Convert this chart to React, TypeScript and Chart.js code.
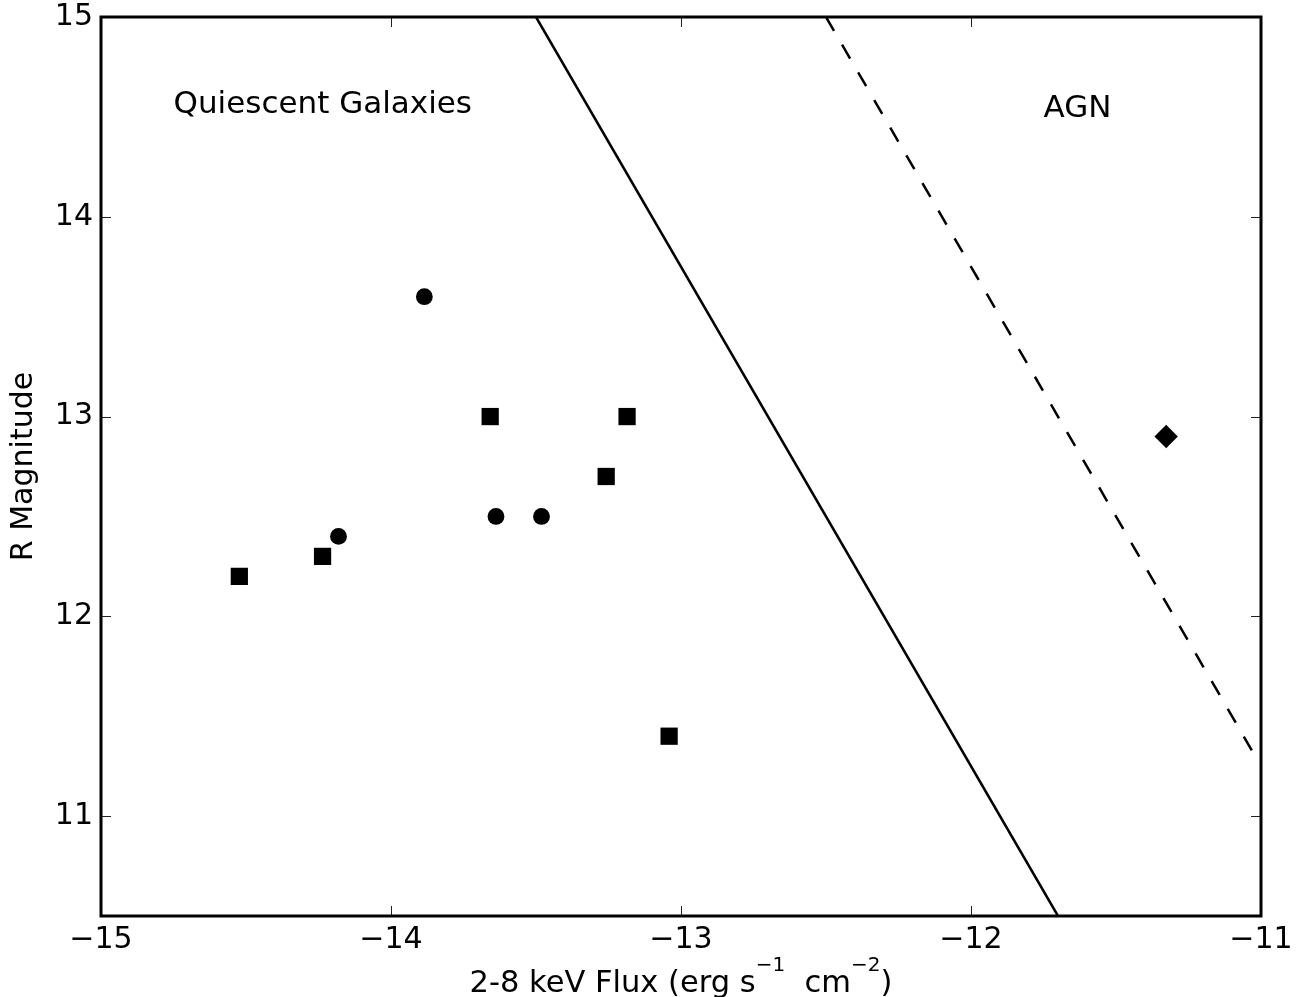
import React, { useEffect, useRef } from "react";
import { Chart, registerables } from "chart.js";

Chart.register(...registerables);

const FONT = '"DejaVu Sans", "Liberation Sans", sans-serif';

// ---- data ----
const squareX = [-14.523, -14.236, -13.658, -13.258, -13.186, -13.041];
const squareY = [12.2, 12.3, 13.0, 12.7, 13.0, 11.4];
const circleX = [-13.885, -14.181, -13.638, -13.481];
const circleY = [13.6, 12.4, 12.5, 12.5];
const diamondX = [-11.327];
const diamondY = [12.9];
const solidLineX = [-13.5, -11.7];
const solidLineY = [15.0, 10.5];
const dashedLineX = [-12.5, -11.02];
const dashedLineY = [15.0, 11.3];

const xTickValues = [-15, -14, -13, -12, -11];
const yTickValues = [11, 12, 13, 14, 15];
const xLimits = [-15, -11];
const yLimits = [10.5, 15];

const annotationText = ["Quiescent Galaxies", "AGN"];
const annotationX = [-14.75, -11.75];
const annotationY = [14.52, 14.5];

const xLabelParts = ["2-8 keV Flux (erg s", "\u22121", "  cm", "\u22122", ")"];
const xLabelSuper = [false, true, false, true, false];
const yLabel = "R Magnitude";

const zip = (xs: number[], ys: number[]) => xs.map((x, i) => ({ x, y: ys[i] }));
const fmt = (v: number) => (v < 0 ? "\u2212" + Math.abs(v) : String(v));

const framePlugin = {
  id: "framePlugin",
  afterDatasetsDraw(chart: any) {
    const { ctx, chartArea: a, scales } = chart;
    ctx.save();
    // inward ticks on all four sides
    ctx.strokeStyle = "#222";
    ctx.lineWidth = 1;
    const L = 10;
    ctx.beginPath();
    for (const v of xTickValues) {
      const px = Math.round(scales.x.getPixelForValue(v)) + 0.5;
      ctx.moveTo(px, a.bottom);
      ctx.lineTo(px, a.bottom - L);
      ctx.moveTo(px, a.top);
      ctx.lineTo(px, a.top + L);
    }
    for (const v of yTickValues) {
      const py = Math.round(scales.y.getPixelForValue(v)) + 0.5;
      ctx.moveTo(a.left, py);
      ctx.lineTo(a.left + L, py);
      ctx.moveTo(a.right, py);
      ctx.lineTo(a.right - L, py);
    }
    ctx.stroke();
    // frame
    ctx.strokeStyle = "#000";
    ctx.lineWidth = 3;
    ctx.strokeRect(a.left, a.top, a.right - a.left, a.bottom - a.top);
    // annotations
    ctx.fillStyle = "#000";
    ctx.font = `31px ${FONT}`;
    ctx.textAlign = "left";
    ctx.textBaseline = "alphabetic";
    annotationText.forEach((t, i) => {
      ctx.fillText(
        t,
        scales.x.getPixelForValue(annotationX[i]),
        scales.y.getPixelForValue(annotationY[i])
      );
    });
    ctx.restore();
  },
  afterDraw(chart: any) {
    const { ctx, chartArea: a } = chart;
    ctx.save();
    ctx.fillStyle = "#000";
    ctx.textBaseline = "alphabetic";
    ctx.textAlign = "left";
    const mainFont = `30.5px ${FONT}`;
    const supFont = `20px ${FONT}`;
    let total = 0;
    const widths = xLabelParts.map((t, i) => {
      ctx.font = xLabelSuper[i] ? supFont : mainFont;
      const w = ctx.measureText(t).width;
      total += w;
      return w;
    });
    let x = (a.left + a.right) / 2 - total / 2;
    const baseline = 992;
    xLabelParts.forEach((t, i) => {
      ctx.font = xLabelSuper[i] ? supFont : mainFont;
      ctx.fillText(t, x, xLabelSuper[i] ? baseline - 21 : baseline);
      x += widths[i];
    });
    ctx.restore();
  },
};

export default function App() {
  const ref = useRef<HTMLCanvasElement>(null);

  useEffect(() => {
    if (!ref.current) return;
    const chart = new Chart(ref.current, {
      type: "scatter",
      data: {
        datasets: [
          {
            label: "solid",
            data: zip(solidLineX, solidLineY),
            showLine: true,
            borderColor: "#000",
            borderWidth: 2.5,
            pointRadius: 0,
            fill: false,
          },
          {
            label: "dashed",
            data: zip(dashedLineX, dashedLineY),
            showLine: true,
            borderColor: "#000",
            borderWidth: 2.5,
            borderDash: [16, 16],
            pointRadius: 0,
            fill: false,
          },
          {
            label: "squares",
            data: zip(squareX, squareY),
            pointStyle: "rect",
            pointRadius: 12.2,
            backgroundColor: "#000",
            borderColor: "#000",
            borderWidth: 0,
          },
          {
            label: "circles",
            data: zip(circleX, circleY),
            pointStyle: "circle",
            pointRadius: 8.4,
            backgroundColor: "#000",
            borderColor: "#000",
            borderWidth: 0,
          },
          {
            label: "diamond",
            data: zip(diamondX, diamondY),
            pointStyle: "rectRot",
            pointRadius: 11.7,
            backgroundColor: "#000",
            borderColor: "#000",
            borderWidth: 0,
          },
        ],
      },
      options: {
        responsive: false,
        animation: false,
        events: [],
        layout: { padding: { left: 0, top: 17, right: 51, bottom: 0 } },
        plugins: {
          legend: { display: false },
          tooltip: { enabled: false },
        },
        scales: {
          x: {
            type: "linear",
            min: xLimits[0],
            max: xLimits[1],
            grid: { display: false, drawTicks: false },
            border: { display: false },
            afterBuildTicks: (s: any) => {
              s.ticks = xTickValues.map((v) => ({ value: v }));
            },
            afterFit: (s: any) => {
              s.height = 81;
              s.paddingLeft = 0;
              s.paddingRight = 0;
            },
            ticks: {
              color: "#000",
              font: { family: FONT, size: 30 },
              padding: 6,
              maxRotation: 0,
              autoSkip: false,
              callback: (v: any) => fmt(Number(v)),
            },
          },
          y: {
            type: "linear",
            min: yLimits[0],
            max: yLimits[1],
            grid: { display: false, drawTicks: false },
            border: { display: false },
            afterBuildTicks: (s: any) => {
              s.ticks = yTickValues.map((v) => ({ value: v }));
            },
            afterFit: (s: any) => {
              s.width = 101;
              s.paddingTop = 0;
              s.paddingBottom = 0;
            },
            title: {
              display: true,
              text: yLabel,
              color: "#000",
              font: { family: FONT, size: 30 },
              padding: { top: 6, bottom: 0 },
            },
            ticks: {
              color: "#000",
              font: { family: FONT, size: 30 },
              padding: 8,
              autoSkip: false,
              callback: (v: any) => fmt(Number(v)),
            },
          },
        },
      },
      plugins: [framePlugin],
    } as any);
    return () => chart.destroy();
  }, []);

  return (
    <div style={{ position: "fixed", left: 0, top: 0, width: 1312, height: 997, background: "#fff" }}>
      <canvas ref={ref} width={1312} height={997} style={{ width: 1312, height: 997, display: "block" }} />
    </div>
  );
}
